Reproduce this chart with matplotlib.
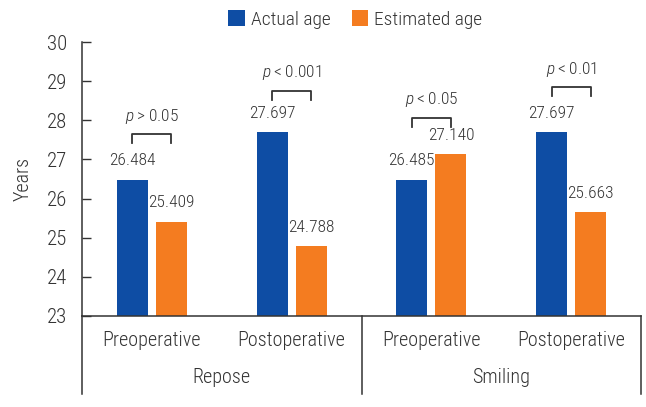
import numpy as np
import matplotlib
matplotlib.use("Agg")
import matplotlib.pyplot as plt

FONT = ['Roboto Condensed', 'Archivo Narrow', 'DejaVu Sans']
plt.rcParams['font.family'] = FONT
plt.rcParams['font.weight'] = 'light'
plt.rcParams['axes.labelweight'] = 'light'
plt.rcParams['mathtext.fontset'] = 'custom'
plt.rcParams['mathtext.it'] = FONT[0] + ':italic:weight=light'
plt.rcParams['mathtext.rm'] = FONT[0] + ':weight=light'

conditions = ["Preoperative", "Postoperative", "Preoperative", "Postoperative"]
groups = ["Repose", "Smiling"]
actual_age = [26.484, 27.697, 26.485, 27.697]
estimated_age = [25.409, 24.788, 27.140, 25.663]
p_labels = [">0.05", "<0.001", "<0.05", "<0.01"]
bracket_y = [27.65, 28.76, 28.07, 28.86]

blue = "#0E4DA4"
orange = "#F47C20"
grey = "#333333"

x = np.arange(len(conditions))
w = 0.222
off = 0.14

fig = plt.figure(figsize=(6.46, 4.07), dpi=100)
ax = fig.add_axes([0.127, 0.2236, 0.8653, 0.6732])

b1 = ax.bar(x - off, actual_age, w, bottom=0, color=blue, label="Actual age")
b2 = ax.bar(x + off, estimated_age, w, bottom=0, color=orange, label="Estimated age")

for xi, v in zip(x - off, actual_age):
    ax.annotate(f"{v:.3f}", (xi, v), xytext=(0, 13.5), textcoords="offset points",
                ha="center", va="center", fontsize=12.5, color=grey)
for xi, v in zip(x + off, estimated_age):
    ax.annotate(f"{v:.3f}", (xi, v), xytext=(0, 13.5), textcoords="offset points",
                ha="center", va="center", fontsize=12.5, color=grey)

# significance brackets
for xi, yb, lab in zip(x, bracket_y, p_labels):
    ax.plot([xi - off, xi - off, xi + off, xi + off], [yb - 0.23, yb, yb, yb - 0.23],
            color=grey, lw=1.3)
    ax.text(xi, yb + 0.45, r"$p$" + lab.replace("<", "\u2009<\u2009").replace(">", "\u2009>\u2009"),
            ha="center", va="center", fontsize=12.5, color=grey)

ax.set_ylim(23, 30)
ax.set_xlim(-0.5, 3.5)
ax.set_yticks(range(23, 31))
ax.set_xticks([])
ax.tick_params(axis="y", direction="in", length=6.5, width=1, pad=11, labelsize=15,
               color=grey, labelcolor=grey)
ax.set_ylabel("Years", fontsize=14.5, labelpad=10, color=grey, fontweight="light")
for s in ["top", "right"]:
    ax.spines[s].set_visible(False)
for s in ["left", "bottom"]:
    ax.spines[s].set_color(grey)
    ax.spines[s].set_linewidth(1.1)

# category and group labels below the axis
tr = ax.get_xaxis_transform()
for xi, c in zip(x, conditions):
    ax.text(xi, -0.091, c, transform=tr, ha="center", va="center", fontsize=14.5,
            color=grey)
for gi, g in enumerate(groups):
    ax.text(gi * 2 + 0.5, -0.226, g, transform=tr, ha="center", va="center",
            fontsize=14.5, color=grey)
for xd in [-0.5, 1.5, 3.5]:
    ax.plot([xd, xd], [0, -0.285], transform=tr, color=grey, lw=1.1, clip_on=False)

fig.legend(handles=[b1, b2], loc="center", bbox_to_anchor=(0.55, 0.952), ncol=2,
           frameon=False, fontsize=14, handlelength=0.85, handleheight=0.85,
           handletextpad=0.3, columnspacing=1.1, labelcolor=grey)

fig.savefig("out.png", dpi=100)
